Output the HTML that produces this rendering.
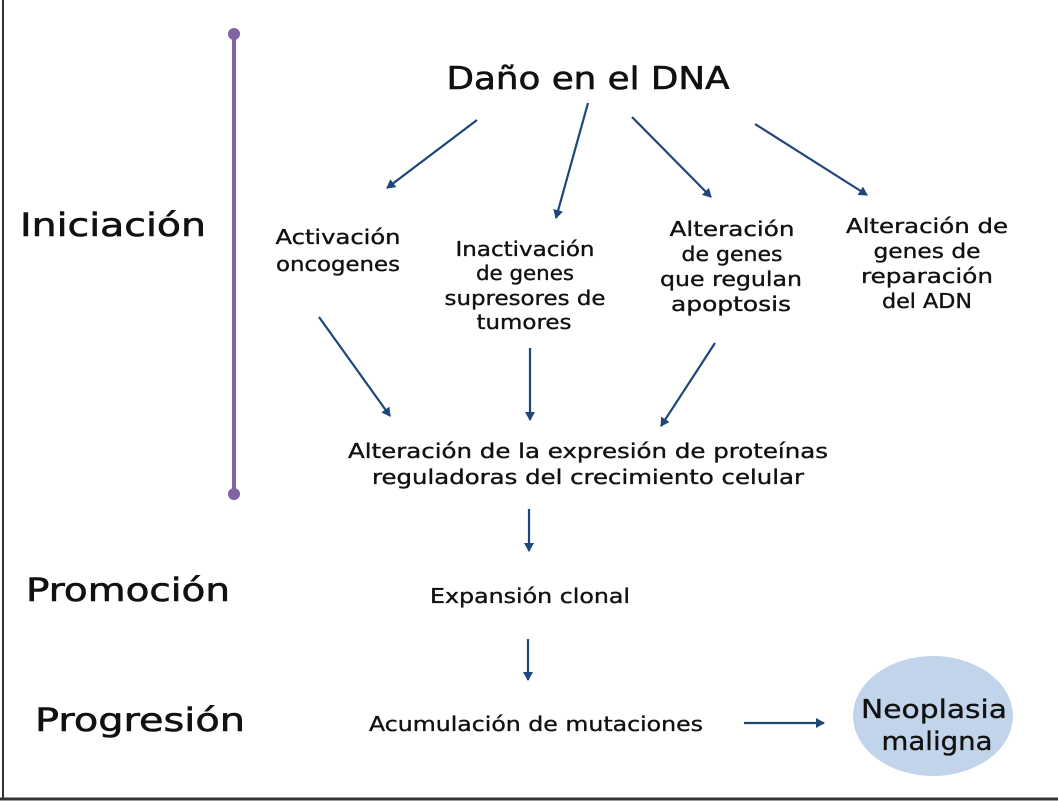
<!DOCTYPE html>
<html><head><meta charset="utf-8"><style>
html,body{margin:0;padding:0;background:#fff;}
svg{display:block;}
text{font-family:"DejaVu Sans","Liberation Sans",sans-serif;fill:#111;stroke:#111;stroke-width:0.35;}
</style></head><body>
<svg width="1058" height="801" viewBox="0 0 1058 801" xmlns="http://www.w3.org/2000/svg">
<defs><marker id="a" markerWidth="10" markerHeight="10" refX="8" refY="5" orient="auto" markerUnits="userSpaceOnUse"><path d="M0,0 L9,5 L0,10 z" fill="#1f4679"/></marker></defs>
<line x1="3" y1="0" x2="3" y2="799" stroke="#333" stroke-width="2"/>
<line x1="0" y1="799" x2="1058" y2="799" stroke="#333" stroke-width="3"/>
<line x1="234" y1="34" x2="234" y2="494" stroke="#8064a2" stroke-width="4"/>
<circle cx="234" cy="34" r="6" fill="#8064a2"/><circle cx="234" cy="494" r="6" fill="#8064a2"/>
<text x="588" y="89" font-size="31" text-anchor="middle" textLength="283" lengthAdjust="spacingAndGlyphs" style="stroke-width:0.6">Daño en el DNA</text>
<text x="113" y="236" font-size="32" text-anchor="middle" textLength="186" lengthAdjust="spacingAndGlyphs" style="stroke-width:0.6">Iniciación</text>
<text x="128" y="601" font-size="32" text-anchor="middle" textLength="204" lengthAdjust="spacingAndGlyphs" style="stroke-width:0.6">Promoción</text>
<text x="140" y="731" font-size="32" text-anchor="middle" textLength="210" lengthAdjust="spacingAndGlyphs" style="stroke-width:0.6">Progresión</text>
<g font-size="20" text-anchor="middle" lengthAdjust="spacingAndGlyphs">
<text x="338" y="244" textLength="125" lengthAdjust="spacingAndGlyphs">Activación</text><text x="338" y="271" textLength="124" lengthAdjust="spacingAndGlyphs">oncogenes</text>
<text x="525" y="256" textLength="139" lengthAdjust="spacingAndGlyphs">Inactivación</text><text x="525" y="280" textLength="98" lengthAdjust="spacingAndGlyphs">de genes</text><text x="525" y="305" textLength="161" lengthAdjust="spacingAndGlyphs">supresores de</text><text x="524" y="329" textLength="95" lengthAdjust="spacingAndGlyphs">tumores</text>
<text x="732" y="236" textLength="125" lengthAdjust="spacingAndGlyphs">Alteración</text><text x="732" y="261" textLength="101" lengthAdjust="spacingAndGlyphs">de genes</text><text x="731" y="286" textLength="142" lengthAdjust="spacingAndGlyphs">que regulan</text><text x="731" y="311" textLength="120" lengthAdjust="spacingAndGlyphs">apoptosis</text>
<text x="927" y="233" textLength="162" lengthAdjust="spacingAndGlyphs">Alteración de</text><text x="927" y="258" textLength="107" lengthAdjust="spacingAndGlyphs">genes de</text><text x="927" y="283" textLength="132" lengthAdjust="spacingAndGlyphs">reparación</text><text x="927" y="308" textLength="90" lengthAdjust="spacingAndGlyphs">del ADN</text>
<text x="588" y="458" textLength="480" lengthAdjust="spacingAndGlyphs">Alteración de la expresión de proteínas</text>
<text x="588" y="484" textLength="432" lengthAdjust="spacingAndGlyphs">reguladoras del crecimiento celular</text>
<text x="530" y="603" textLength="200" lengthAdjust="spacingAndGlyphs">Expansión clonal</text>
<text x="536" y="731" textLength="334" lengthAdjust="spacingAndGlyphs">Acumulación de mutaciones</text>
</g>
<ellipse cx="933" cy="716" rx="80" ry="60" fill="#c1d4ea"/>
<text x="934" y="718" font-size="26" text-anchor="middle" textLength="146" lengthAdjust="spacingAndGlyphs">Neoplasia</text>
<text x="937" y="750" font-size="26" text-anchor="middle" textLength="111" lengthAdjust="spacingAndGlyphs">maligna</text>
<g stroke="#1f4679" stroke-width="2.2" marker-end="url(#a)">
<line x1="477" y1="120" x2="387" y2="188"/>
<line x1="588" y1="103" x2="556" y2="218"/>
<line x1="632" y1="117" x2="711" y2="197"/>
<line x1="755" y1="124" x2="867" y2="195"/>
<line x1="319" y1="317" x2="390" y2="416"/>
<line x1="530" y1="348" x2="530" y2="420"/>
<line x1="715" y1="343" x2="661" y2="426"/>
<line x1="529" y1="509" x2="529" y2="551"/>
<line x1="528" y1="639" x2="528" y2="680"/>
<line x1="744" y1="723" x2="824" y2="723"/>
</g>
</svg>
</body></html>
